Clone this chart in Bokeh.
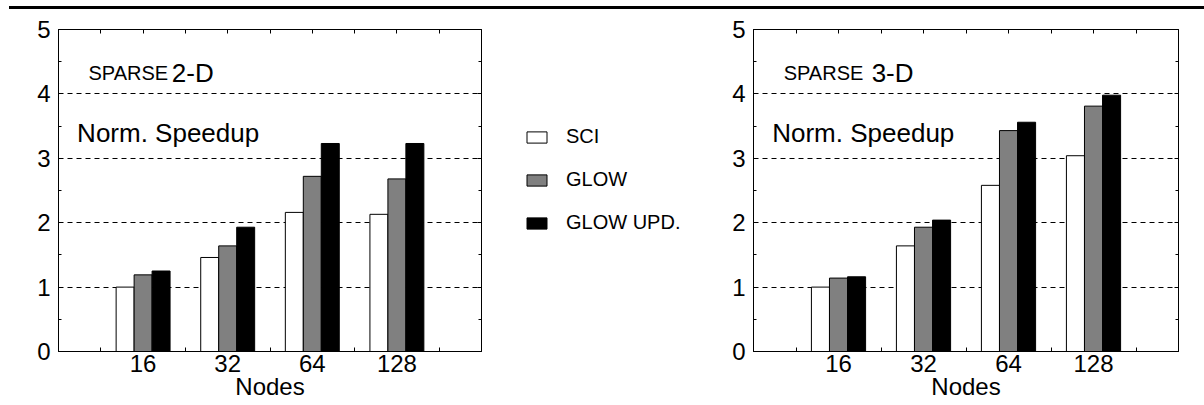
from bokeh.plotting import figure
from bokeh.models import (Range1d, LinearAxis, FixedTicker, ColumnDataSource,
                          Legend, LegendItem, Div, Label)
from bokeh.layouts import row, column
from bokeh.transform import dodge
from bokeh.embed import file_html
from bokeh.resources import INLINE

# ---------------- data ----------------
nodes = ["16", "32", "64", "128"]
node_pos = [2, 4, 6, 8]
node_minor = [1, 3, 5, 7, 9]
top_ticks = [1, 2, 3, 4, 5, 6, 7, 8, 9]
series = ["SCI", "GLOW", "GLOW UPD."]
series_fields = ["sci", "glow", "upd"]
series_colors = ["white", "#808080", "black"]

sparse2d_sci = [1.00, 1.46, 2.16, 2.13]
sparse2d_glow = [1.19, 1.64, 2.72, 2.68]
sparse2d_upd = [1.25, 1.93, 3.23, 3.23]

sparse3d_sci = [1.00, 1.64, 2.58, 3.04]
sparse3d_glow = [1.14, 1.93, 3.43, 3.81]
sparse3d_upd = [1.16, 2.04, 3.56, 3.98]

y_ticks = [0, 1, 2, 3, 4, 5]
y_minor = [0.5, 1.5, 2.5, 3.5, 4.5]
grid_ticks = [1, 2, 3, 4]

FONT = "Liberation Sans"
BAR_W = 0.425
OFFSETS = [-BAR_W, 0, BAR_W]


def make_panel(small, big, sci, glow, upd, fw, border_left, border_right, big_x):
    p = figure(x_range=Range1d(0, 10), y_range=Range1d(0, 5),
               frame_width=fw, frame_height=322,
               output_backend="svg", toolbar_location=None,
               min_border_left=border_left,
               min_border_right=border_right,
               min_border_top=20, min_border_bottom=0)
    p.outline_line_color = "black"
    p.background_fill_color = "white"
    p.border_fill_color = "white"

    src = ColumnDataSource(dict(x=node_pos, sci=sci, glow=glow, upd=upd))
    for field, off, col in zip(series_fields, OFFSETS, series_colors):
        p.vbar(x=dodge("x", off), top=field, bottom=0, width=BAR_W, source=src,
               fill_color=col, line_color="black", line_width=1)

    # grid
    p.xgrid.visible = False
    p.ygrid.ticker = FixedTicker(ticks=grid_ticks)
    p.ygrid.grid_line_color = "black"
    p.ygrid.grid_line_dash = "5 4"
    p.ygrid.grid_line_width = 1

    # left axis
    ya = p.yaxis[0]
    ya.ticker = FixedTicker(ticks=y_ticks, minor_ticks=y_minor)
    ya.major_label_text_font = FONT
    ya.major_label_text_font_size = "24px"
    ya.major_label_text_color = "black"
    ya.major_tick_in = 4
    ya.major_tick_out = 0
    ya.minor_tick_in = 3
    ya.minor_tick_out = 0
    ya.major_label_standoff = 8
    ya.axis_line_color = "black"
    ya.major_tick_line_color = "black"
    ya.minor_tick_line_color = "black"

    # bottom axis
    xa = p.xaxis[0]
    xa.ticker = FixedTicker(ticks=node_pos, minor_ticks=node_minor)
    xa.major_label_overrides = {pos: lab for pos, lab in zip(node_pos, nodes)}
    xa.major_label_text_font = FONT
    xa.major_label_text_font_size = "24px"
    xa.major_label_text_color = "black"
    xa.major_tick_in = 0
    xa.major_tick_out = 0
    xa.minor_tick_in = 4
    xa.minor_tick_out = 0
    xa.major_label_standoff = 3
    xa.axis_label = "Nodes"
    xa.axis_label_text_font = FONT
    xa.axis_label_text_font_size = "24px"
    xa.axis_label_text_font_style = "normal"
    xa.axis_label_text_color = "black"
    xa.axis_label_standoff = -2
    xa.axis_line_color = "black"
    xa.minor_tick_line_color = "black"

    # top axis (ticks only)
    ta = LinearAxis(ticker=FixedTicker(ticks=top_ticks),
                    major_label_text_font_size="0px",
                    major_label_text_color=None,
                    major_tick_in=4, major_tick_out=0,
                    minor_tick_in=0, minor_tick_out=0,
                    major_label_standoff=0,
                    axis_line_color="black", major_tick_line_color="black")
    p.add_layout(ta, "above")

    # right axis (ticks only)
    ra = LinearAxis(ticker=FixedTicker(ticks=y_ticks, minor_ticks=y_minor),
                    major_label_text_font_size="0px",
                    major_label_text_color=None,
                    major_tick_in=4, major_tick_out=0,
                    minor_tick_in=3, minor_tick_out=0,
                    major_label_standoff=0,
                    axis_line_color="black", major_tick_line_color="black",
                    minor_tick_line_color="black")
    p.add_layout(ra, "right")

    # in-plot texts
    p.add_layout(Label(x=0.71, y=4.33, text=small, text_font=FONT,
                       text_font_size="20px", text_baseline="alphabetic",
                       text_color="black"))
    p.add_layout(Label(x=big_x, y=4.33, text=big, text_font=FONT,
                       text_font_size="26px", text_baseline="alphabetic",
                       text_color="black"))
    p.add_layout(Label(x=0.44, y=3.39, text="Norm. Speedup", text_font=FONT,
                       text_font_size="26px", text_baseline="alphabetic",
                       text_color="black"))
    return p, src


left, src_left = make_panel("SPARSE", "2-D", sparse2d_sci, sparse2d_glow, sparse2d_upd,
                            423, 58, 10, 2.68)
right, _ = make_panel("SPARSE", "3-D", sparse3d_sci, sparse3d_glow, sparse3d_upd,
                      425, 50, 8, 2.78)

# middle panel holding the legend
mid = figure(width=212, frame_height=322, x_range=Range1d(0, 10), y_range=Range1d(0, 5),
             output_backend="svg", toolbar_location=None,
             x_axis_location=None, y_axis_location=None,
             min_border_left=0, min_border_right=0, min_border_top=20,
             min_border_bottom=0)
mid.grid.visible = False
mid.outline_line_color = None
mid.background_fill_color = "white"
items = []
for s, field, off, col in zip(series, series_fields, OFFSETS, series_colors):
    r = mid.vbar(x=dodge("x", off), top=field, bottom=0, width=BAR_W, source=src_left,
                 fill_color=col, line_color="black", line_width=1, visible=False)
    items.append(LegendItem(label=s, renderers=[r]))
legend = Legend(items=items, location=(33, 117), margin=0, padding=0,
                glyph_width=25, glyph_height=14, label_standoff=17,
                spacing=20, label_text_font=FONT, label_text_font_size="20px",
                label_text_color="black", click_policy="none",
                border_line_color=None, background_fill_alpha=0)
mid.add_layout(legend)

line = Div(text="", width=1195, height=3, margin=(6, 0, 0, 9),
           styles={"background-color": "black"})

layout = column(line, row(left, mid, right))

open("out.html", "w").write(file_html(layout, INLINE))
